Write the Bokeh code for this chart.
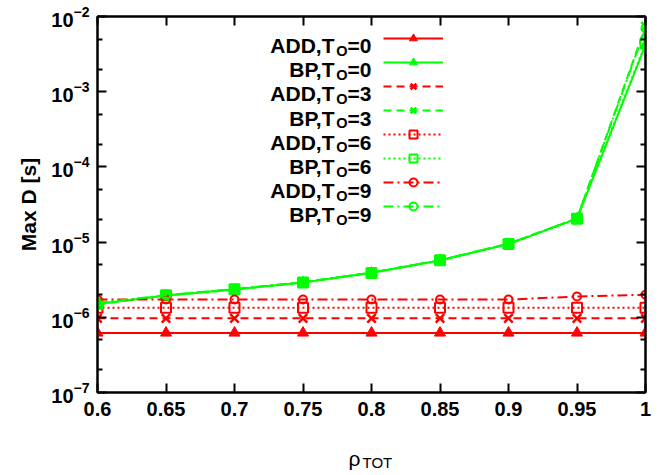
from bokeh.plotting import figure
from bokeh.layouts import column
from bokeh.models import (FixedTicker, LogAxis, LinearAxis, Legend, LegendItem,
                          Label, CustomJSTickFormatter, Range1d)
from bokeh.embed import file_html
from bokeh.resources import INLINE

# donnees
rho = [0.6, 0.65, 0.7, 0.75, 0.8, 0.85, 0.9, 0.95, 1.0]

add_t0 = [6.2e-7, 6.2e-7, 6.2e-7, 6.2e-7, 6.2e-7, 6.2e-7, 6.2e-7, 6.2e-7, 6.2e-7]
bp_t0 = [1.50e-6, 1.95e-6, 2.35e-6, 2.90e-6, 3.90e-6, 5.70e-6, 9.40e-6, 2.05e-5, 4.2e-3]
add_t3 = [9.7e-7, 9.7e-7, 9.7e-7, 9.7e-7, 9.7e-7, 9.7e-7, 9.7e-7, 9.7e-7, 9.7e-7]
bp_t3 = [1.48e-6, 1.95e-6, 2.33e-6, 2.92e-6, 3.92e-6, 5.75e-6, 9.50e-6, 2.06e-5, 7.4e-3]
add_t6 = [1.34e-6, 1.34e-6, 1.34e-6, 1.34e-6, 1.34e-6, 1.34e-6, 1.34e-6, 1.34e-6, 1.34e-6]
bp_t6 = [1.52e-6, 1.96e-6, 2.36e-6, 2.90e-6, 3.88e-6, 5.72e-6, 9.45e-6, 2.04e-5, 4.4e-3]
add_t9 = [1.72e-6, 1.72e-6, 1.72e-6, 1.72e-6, 1.72e-6, 1.72e-6, 1.72e-6, 1.89e-6, 2.0e-6]
bp_t9 = [1.55e-6, 1.97e-6, 2.38e-6, 2.93e-6, 3.92e-6, 5.76e-6, 9.52e-6, 2.07e-5, 7.0e-3]

y_ticks = [1e-7, 1e-6, 1e-5, 1e-4, 1e-3, 1e-2]

series = [
    ("ADD", "0", add_t0, "#ff0000", "solid", "triangle"),
    ("BP", "0", bp_t0, "#00ff00", "solid", "triangle"),
    ("ADD", "3", add_t3, "#ff0000", "8 5", "x"),
    ("BP", "3", bp_t3, "#00ff00", "8 5", "x"),
    ("ADD", "6", add_t6, "#ff0000", "2 3", "square"),
    ("BP", "6", bp_t6, "#00ff00", "2 3", "square"),
    ("ADD", "9", add_t9, "#ff0000", "10 4 2 4", "circle"),
    ("BP", "9", bp_t9, "#00ff00", "10 4 2 4", "circle"),
]

FONT = "Liberation Sans"

p = figure(frame_width=548, frame_height=376, y_axis_type="log",
           x_range=Range1d(0.6, 1.0), y_range=Range1d(1e-7, 1e-2),
           output_backend="svg", toolbar_location=None,
           min_border_left=97, min_border_top=16, min_border_right=20,
           min_border_bottom=40)
p.grid.visible = False
p.outline_line_color = "black"
p.outline_line_width = 2
p.background_fill_color = "white"

minor = [m * d for d in y_ticks[:-1] for m in (2, 5)]
blank = CustomJSTickFormatter(code="return ''")
xfmt = CustomJSTickFormatter(code="return Number(tick.toFixed(2)).toString()")


def style_axis(ax):
    ax.axis_line_width = 2
    ax.major_tick_line_width = 2
    ax.minor_tick_line_width = 2
    ax.major_tick_in = 9
    ax.major_tick_out = 0
    ax.minor_tick_in = 5
    ax.minor_tick_out = 0
    ax.major_label_text_font = FONT
    ax.major_label_text_font_style = "bold"
    ax.major_label_text_font_size = "20px"
    ax.major_label_text_color = "black"


xa = p.xaxis[0]
xa.ticker = FixedTicker(ticks=rho)
xa.formatter = xfmt
style_axis(xa)
xa.minor_tick_line_color = None
xa.major_label_standoff = 9

ya = p.yaxis[0]
ya.ticker = FixedTicker(ticks=y_ticks, minor_ticks=minor)
style_axis(ya)
ya.major_label_standoff = 8
ya.axis_label = "Max D [s]"
ya.axis_label_text_font = FONT
ya.axis_label_text_font_style = "bold"
ya.axis_label_text_font_size = "21px"
ya.axis_label_text_color = "black"
ya.axis_label_standoff = 8

top = LinearAxis(ticker=FixedTicker(ticks=rho), formatter=blank)
style_axis(top)
top.minor_tick_line_color = None
top.major_label_standoff = 0
p.add_layout(top, "above")

right = LogAxis(ticker=FixedTicker(ticks=y_ticks, minor_ticks=minor), formatter=blank)
style_axis(right)
right.major_label_standoff = 0
p.add_layout(right, "right")

items = []
for name, t0, vals, col, dash, mk in series:
    ln = p.line(rho, vals, line_color=col, line_width=2, line_dash=dash)
    if mk == "triangle":
        sc = p.scatter(rho, vals, marker=mk, size=11, fill_color=col, line_color=col)
    elif mk == "x":
        sc = p.scatter(rho, vals, marker=mk, size=12, line_color=col, line_width=2.5)
    else:
        sc = p.scatter(rho, vals, marker=mk, size=8 if mk == "circle" else 10,
                       fill_color=None, line_color=col, line_width=2)
    items.append(LegendItem(label=" ", renderers=[ln, sc]))

legend = Legend(items=items, location=(286, 176), glyph_width=60, glyph_height=20,
                label_width=0, label_height=20, label_standoff=0, spacing=4,
                padding=0, margin=0, border_line_color=None,
                background_fill_alpha=0, label_text_font_size="1px")
p.add_layout(legend, "center")

# textes de la legende, alignes a droite, avec indice
for i, (name, t0, vals, col, dash, mk) in enumerate(series):
    yb = 347 - 24.2 * i
    p.add_layout(Label(x=274, y=yb, x_units="screen", y_units="screen", text="=" + t0,
                       text_align="right", text_baseline="alphabetic", text_font=FONT,
                       text_font_style="bold", text_font_size="21px", text_color="black"))
    p.add_layout(Label(x=250, y=yb - 5, x_units="screen", y_units="screen", text="O",
                       text_align="right", text_baseline="alphabetic", text_font=FONT,
                       text_font_style="bold", text_font_size="14.5px", text_color="black"))
    p.add_layout(Label(x=237, y=yb, x_units="screen", y_units="screen", text=name + ",T",
                       text_align="right", text_baseline="alphabetic", text_font=FONT,
                       text_font_style="bold", text_font_size="21px", text_color="black"))

# titre de l'axe x (rho indice TOT) dans une bande sous le graphique
lab = figure(width=665, height=40, x_range=Range1d(0, 1), y_range=Range1d(0, 1),
             x_axis_location=None, y_axis_location=None, min_border=0,
             output_backend="svg", toolbar_location=None)
lab.grid.visible = False
lab.outline_line_color = None
lab.add_layout(Label(x=251, y=14, x_units="screen", y_units="screen", text="ρ",
                     text_align="left", text_baseline="alphabetic", text_font=FONT,
                     text_font_size="21px", text_color="black"))
lab.add_layout(Label(x=265, y=10, x_units="screen", y_units="screen", text="TOT",
                     text_align="left", text_baseline="alphabetic", text_font=FONT,
                     text_font_size="15px", text_color="black"))

open("out.html", "w").write(file_html(column(p, lab, spacing=0), INLINE))
